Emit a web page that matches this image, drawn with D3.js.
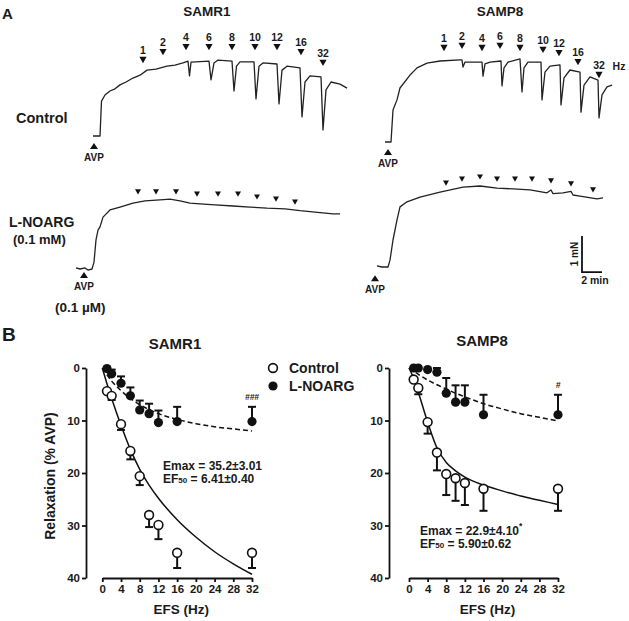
<!DOCTYPE html>
<html><head><meta charset="utf-8">
<script src="https://cdn.jsdelivr.net/npm/d3@7"></script>
<style>
body{margin:0;background:#fff}
svg{display:block}
text{font-family:"Liberation Sans",Arial,sans-serif;font-weight:bold;fill:#1a1a1a}
</style></head>
<body><svg id="c" width="629" height="621"></svg>
<script>
// ---------------- DATA ----------------
// Panel B: relaxation (% AVP) vs EFS frequency (Hz)
const freqs = [1,2,4,6,8,10,12,16,32];
const r1CtlMean = [4.4,5.3,10.7,15.8,20.6,28.0,29.9,35.2,35.2];
const r1CtlSem  = [0,0.8,1.1,1.6,1.7,2.3,2.7,2.9,2.9];
const r1LnMean  = [0.1,1.1,2.9,5.3,8.0,8.7,10.4,10.2,10.2];
const r1LnSem   = [0,0.8,1.3,1.6,1.8,1.9,2.3,2.8,2.8];
const p8CtlMean = [2.2,3.8,10.3,16.1,20.2,21.0,21.9,23.0,23.0];
const p8CtlSem  = [0,1.2,2.2,3.4,4.0,4.3,4.2,4.2,4.2];
const p8LnMean  = [0,0,0.3,0.8,4.8,6.5,6.5,8.9,8.9];
const p8LnSem   = [0,0,0,0.8,2.9,3.2,3.2,3.8,3.8];
// fitted curves
const fitX      = [0,1,2,4,6,8,10,12,16,20,24,28,32];
const r1CtlFit  = [0,3.0,5.8,10.9,15.5,19.3,22.3,24.8,28.9,32.2,35.0,37.3,39.3];
const r1LnFit   = [0,1.3,2.5,4.3,5.8,7.0,7.9,8.7,9.8,10.6,11.2,11.6,12.0];
const p8CtlFit  = [0,2.0,4.6,10.3,15.2,18.0,19.6,20.8,22.3,23.4,24.4,25.2,26.0];
const p8LnFit   = [0,0.6,1.2,2.3,3.2,4.0,4.8,5.5,6.8,7.8,8.7,9.4,10.1];
const xTicks = [0,4,8,12,16,20,24,28,32];
const yTicks = [0,10,20,30,40];

// Panel A: tension traces, [time (min), tension (mN)]
const traceR1Ctl = [[0,0],[0.7,0],[0.85,0.97],[1.2,1.14],[1.7,1.25],[2.2,1.31],[2.7,1.42],[3.3,1.5],[4.0,1.61],[4.7,1.69],[5.4,1.83],[6.3,1.86],[7.4,1.94],[8.2,1.97],[9.0,2.03],[9.5,2.08],
 [9.65,1.67],[9.8,2.05],[11.6,2.08],[11.8,1.56],[12.1,2.03],[12.5,2.11],[13.9,2.08],[14.1,1.25],[14.35,1.94],[14.7,2.06],
 [16.1,2.06],[16.3,1.03],[16.6,1.94],[17.0,2.03],[18.4,2.0],[18.6,0.89],[18.9,1.83],[19.4,1.94],[20.7,1.89],[20.9,0.53],
 [21.2,1.5],[21.7,1.67],[22.8,1.64],[23.0,0.17],[23.3,1.28],[23.8,1.5],[24.7,1.44],[25.4,1.33]];
const traceP8Ctl = [[0,0],[0.6,0],[0.8,0.89],[1.2,1.17],[1.5,1.5],[2.5,1.86],[3.2,2.06],[4.2,2.19],[5.5,2.25],[7.5,2.28],[7.7,2.28],
 [7.8,2.08],[8.0,2.22],[9.7,2.22],[9.8,1.83],[10.0,2.17],[10.5,2.22],[11.6,2.25],[11.7,1.56],[11.9,2.06],[12.3,2.22],[13.5,2.31],
 [13.7,1.39],[13.9,2.06],[14.3,2.22],[15.6,2.22],[15.7,1.17],[16.0,1.94],[16.5,2.11],[17.5,2.14],[17.6,1.03],[17.9,1.78],[18.5,2.0],
 [19.5,1.94],[19.6,0.83],[19.9,1.58],[20.5,1.81],[21.3,1.72],[21.4,0.67],[21.7,1.31],[22.2,1.53],[22.7,1.58]];
const traceR1Ln = [[0,0.03],[0.4,0],[0.9,0.03],[1.2,-0.03],[1.6,0],[1.8,0.19],[2.0,0.81],[2.2,1.08],[2.4,1.17],[2.7,1.44],[3.4,1.64],
 [4.4,1.72],[5.7,1.83],[6.9,1.89],[8.4,1.92],[9.4,1.94],[10.4,1.89],[11.4,1.83],[12.4,1.81],[13.9,1.78],[15.7,1.75],[17.4,1.72],
 [19.1,1.69],[20.9,1.67],[22.4,1.62],[23.9,1.58],[25.7,1.53],[26.4,1.53]];
const traceP8Ln = [[0,0.03],[0.5,0],[1.1,0],[1.3,0.19],[1.6,0.75],[2.0,1.31],[2.3,1.67],[3.0,1.81],[4.3,1.94],[6.3,2.08],[8.6,2.22],
 [10.3,2.25],[12.0,2.19],[13.6,2.17],[15.3,2.14],[17.0,2.06],[17.4,2.14],[17.6,2.04],[18.6,2.06],[19.4,2.1],[19.6,2.0],[20.3,1.97],[22.0,1.89],[22.6,1.92]];
// stimulus markers: frequency labels, time (min), marker height (mN)
const stimLabels = ["1","2","4","6","8","10","12","16","32"];
const stimR1CtlT = [5.0,7.0,9.3,11.6,13.9,16.2,18.4,20.8,23.0];
const stimR1CtlF = [2.11,2.33,2.47,2.47,2.47,2.47,2.47,2.33,2.03];
const stimP8CtlT = [5.9,7.7,9.7,11.5,13.5,15.8,17.4,19.3,21.4];
const stimP8CtlF = [2.61,2.67,2.61,2.67,2.61,2.56,2.47,2.22,1.86];
const stimR1LnT  = [6.2,8.0,10.0,12.1,14.2,16.2,18.1,20.0,21.9];
const stimR1LnF  = [2.14,2.14,2.14,2.08,2.08,2.08,2.0,1.94,1.86];
const stimP8LnT  = [6.9,8.5,10.3,12.0,13.8,15.5,17.4,19.4,21.6];
const stimP8LnF  = [2.33,2.44,2.5,2.44,2.44,2.44,2.39,2.31,2.14];
// AVP markers [time, tension]
const avpR1Ctl = [0.1,-0.28], avpP8Ctl = [0.3,-0.28], avpR1Ln = [0.8,-0.17], avpP8Ln = [-0.2,-0.31];
// scale bar: 2 min, 1 mN
const scaleBarT = [20.5, 22.5], scaleBarF = [-0.14, 0.86];

// ---------------- DRAW ----------------
const svg = d3.select("#c");
svg.append("rect").attr("width",629).attr("height",621).attr("fill","#fff");

function txt(x,y,s,size,anchor,extra){
  const t = svg.append("text").attr("x",x).attr("y",y).attr("font-size",size)
    .attr("text-anchor",anchor||"start").text(s);
  if(extra) extra(t);
  return t;
}

// ----- Panel A -----
txt(2,19,"A",15);
txt(207,16,"SAMR1",13.5,"middle");
txt(500,16,"SAMP8",13.5,"middle");
txt(16,123,"Control",14.5);
txt(9,227,"L-NOARG",14);
txt(13,244,"(0.1 mM)",13);
txt(55,312,"(0.1 µM)",13.5);

function tracePanel(ox, oy, trace, stimT, stimF, withLabels, avp, small){
  const x = d3.scaleLinear().domain([0,1]).range([ox, ox+10]);
  const y = d3.scaleLinear().domain([0,1]).range([oy, oy-36]);
  svg.append("path").datum(trace)
    .attr("d", d3.line().x(d=>x(d[0])).y(d=>y(d[1])))
    .attr("fill","none").attr("stroke","#222").attr("stroke-width",1.3).attr("stroke-linejoin","round");
  const hw = small?3:3.6, hh = small?2.6:3.2;
  stimT.forEach((t,i)=>{
    const cx = x(t), cy = y(stimF[i]);
    svg.append("path").attr("d",`M${cx-hw},${cy-hh}L${cx+hw},${cy-hh}L${cx},${cy+hh}Z`).attr("fill","#111");
    if(withLabels) txt(cx, cy-hh-2.5, stimLabels[i], 10.5, "middle");
  });
  const ax = x(avp[0]), ay = y(avp[1]);
  svg.append("path").attr("d",`M${ax-4},${ay+3}L${ax+4},${ay+3}L${ax},${ay-3}Z`).attr("fill","#111");
  txt(ax, ay+15, "AVP", 10, "middle");
  return {x,y};
}
tracePanel(93,136,traceR1Ctl,stimR1CtlT,stimR1CtlF,true,avpR1Ctl,false);
tracePanel(385,142,traceP8Ctl,stimP8CtlT,stimP8CtlF,true,avpP8Ctl,false);
txt(619,70,"Hz",10.5,"middle");
tracePanel(76,269,traceR1Ln,stimR1LnT,stimR1LnF,false,avpR1Ln,true);
const p8l = tracePanel(377,267,traceP8Ln,stimP8LnT,stimP8LnF,false,avpP8Ln,true);
// scale bar
svg.append("path")
  .attr("d",`M${p8l.x(scaleBarT[0])},${p8l.y(scaleBarF[1])}L${p8l.x(scaleBarT[0])},${p8l.y(scaleBarF[0])}L${p8l.x(scaleBarT[1])},${p8l.y(scaleBarF[0])}`)
  .attr("fill","none").attr("stroke","#111").attr("stroke-width",1.8);
txt(0,0,"1 mN",10,"middle",t=>t.attr("transform",`translate(${p8l.x(scaleBarT[0])-4},${(p8l.y(scaleBarF[0])+p8l.y(scaleBarF[1]))/2}) rotate(-90)`));
txt((p8l.x(scaleBarT[0])+p8l.x(scaleBarT[1]))/2+3, p8l.y(scaleBarF[0])+12, "2 min", 10.5, "middle");

// ----- Panel B -----
txt(2,341,"B",19);
const yB = d3.scaleLinear().domain([0,40]).range([368,578]);
function doseChart(cfg){
  const x = d3.scaleLinear().domain([0,32]).range(cfg.xr);
  const ya = svg.append("g").attr("transform",`translate(${cfg.yax},0)`)
    .call(d3.axisLeft(yB).tickValues(yTicks).tickSize(4).tickSizeOuter(0).tickPadding(2));
  const xa = svg.append("g").attr("transform",`translate(0,578)`)
    .call(d3.axisBottom(x).tickValues(xTicks).tickSize(4).tickSizeOuter(0).tickPadding(3));
  [ya,xa].forEach(a=>{
    a.selectAll("path,line").attr("stroke","#111").attr("stroke-width",1.8);
    a.selectAll("text").attr("font-size",11.5).attr("fill","#1a1a1a")
      .style("font-family",'"Liberation Sans",Arial,sans-serif').style("font-weight","bold");
  });
  const line = d3.line().x((d,i)=>x(fitX[i])).y(d=>yB(d)).curve(d3.curveMonotoneX);
  svg.append("path").datum(cfg.ctlFit).attr("d",line).attr("fill","none").attr("stroke","#111").attr("stroke-width",1.5);
  svg.append("path").datum(cfg.lnFit).attr("d",line).attr("fill","none").attr("stroke","#111").attr("stroke-width",1.5).attr("stroke-dasharray","5,3");
  function ebars(mean, sem, dir){
    freqs.forEach((f,i)=>{
      if(sem[i]<=0) return;
      const cx = x(f), y0 = yB(mean[i]), y1 = yB(mean[i]+dir*sem[i]);
      svg.append("line").attr("x1",cx).attr("x2",cx).attr("y1",y0).attr("y2",y1).attr("stroke","#111").attr("stroke-width",2);
      svg.append("line").attr("x1",cx-4).attr("x2",cx+4).attr("y1",y1).attr("y2",y1).attr("stroke","#111").attr("stroke-width",2);
    });
  }
  ebars(cfg.lnMean, cfg.lnSem, -1);
  ebars(cfg.ctlMean, cfg.ctlSem, 1);
  freqs.forEach((f,i)=>{
    svg.append("circle").attr("cx",x(f)).attr("cy",yB(cfg.lnMean[i])).attr("r",4.6).attr("fill","#111");
  });
  freqs.forEach((f,i)=>{
    svg.append("circle").attr("cx",x(f)).attr("cy",yB(cfg.ctlMean[i])).attr("r",4.4).attr("fill","#fff").attr("stroke","#111").attr("stroke-width",1.6);
  });
  txt(cfg.titleX, cfg.titleY, cfg.title, 15, "middle");
  txt((cfg.xr[0]+cfg.xr[1])/2+4, 614, "EFS (Hz)", 13.5, "middle");
  txt(x(32), yB(cfg.lnMean[8]-cfg.lnSem[8])-7, cfg.sig, 8.5, "middle", t=>t.attr("font-style","italic").attr("fill","#555"));
  const a1 = txt(cfg.annX, cfg.annY, cfg.emax, 12, "start", t=>t.attr("fill","#333"));
  if(cfg.star) a1.append("tspan").attr("dy",-6).attr("font-size",8.5).text("*");
  txt(cfg.annX, cfg.annY+12.5, "EF", 12, "start", t=>{
    t.attr("fill","#333");
    t.append("tspan").attr("font-size",8).text("50");
    t.append("tspan").attr("font-size",12).text(cfg.ef50);
  });
  return x;
}
doseChart({xr:[102.3,252], yax:86, title:"SAMR1", titleX:175, titleY:349,
  ctlMean:r1CtlMean, ctlSem:r1CtlSem, lnMean:r1LnMean, lnSem:r1LnSem, ctlFit:r1CtlFit, lnFit:r1LnFit,
  sig:"###", annX:163, annY:470, emax:"Emax = 35.2\u00b13.01", ef50:" = 6.41\u00b10.40", star:false});
doseChart({xr:[409,558], yax:389, title:"SAMP8", titleX:482, titleY:346,
  ctlMean:p8CtlMean, ctlSem:p8CtlSem, lnMean:p8LnMean, lnSem:p8LnSem, ctlFit:p8CtlFit, lnFit:p8LnFit,
  sig:"#", annX:420, annY:535, emax:"Emax = 22.9\u00b14.10", ef50:" = 5.90\u00b10.62", star:true});

txt(0,0,"Relaxation (% AVP)",14,"middle",t=>t.attr("transform","translate(55,476) rotate(-90)"));

// legend
svg.append("circle").attr("cx",273).attr("cy",368).attr("r",4.4).attr("fill","#fff").attr("stroke","#111").attr("stroke-width",1.6);
svg.append("circle").attr("cx",273).attr("cy",386).attr("r",4.6).attr("fill","#111");
txt(289,373,"Control",14);
txt(289,391,"L-NOARG",14);
</script>
</body></html>
